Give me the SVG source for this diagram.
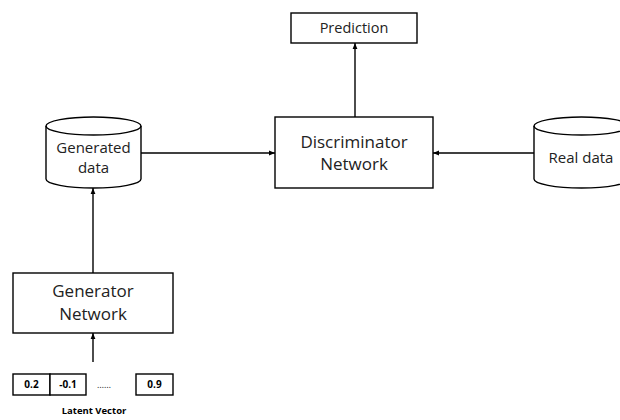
<svg xmlns="http://www.w3.org/2000/svg" width="620" height="420" viewBox="0 0 620 420">
<defs>
<style>
.s{fill:#fff;stroke:#000;stroke-width:1.4}
.l{fill:none;stroke:#000;stroke-width:1.4}
.t{font-family:"Open Sans","Liberation Sans",sans-serif;fill:#222;text-anchor:middle}
.b{font-family:"Open Sans","Liberation Sans",sans-serif;font-weight:bold;fill:#000;text-anchor:middle}
</style>
<marker id="a" viewBox="0 0 10 10" refX="10" refY="5" markerWidth="6" markerHeight="6" orient="auto" markerUnits="userSpaceOnUse">
<path d="M0,1 L10,5 L0,9 z" fill="#000"/>
</marker>
</defs>
<rect width="620" height="420" fill="#fff"/>
<g id="connectors">
<line class="l" x1="355" y1="117" x2="355" y2="43" marker-end="url(#a)"/>
<line class="l" x1="141" y1="153" x2="275" y2="153" marker-end="url(#a)"/>
<line class="l" x1="534" y1="153" x2="433" y2="153" marker-end="url(#a)"/>
<line class="l" x1="93" y1="273" x2="93" y2="188" marker-end="url(#a)"/>
<line class="l" x1="93" y1="362" x2="93" y2="333" marker-end="url(#a)"/>
</g>
<g id="prediction">
<rect class="s" x="291" y="13" width="126" height="30"/>
<text class="t" x="354" y="33" font-size="14.5">Prediction</text>
</g>
<g id="discriminator">
<rect class="s" x="275" y="117" width="158" height="71"/>
<text class="t" x="354" y="148" font-size="17">Discriminator</text>
<text class="t" x="354" y="170" font-size="17">Network</text>
</g>
<g id="generated-data">
<path class="s" d="M46,126 L46,179 A47.5,9 0 0 0 141,179 L141,126 A47.5,9 0 0 0 46,126 Z"/>
<path class="l" d="M46,126 A47.5,9 0 0 0 141,126"/>
<text class="t" x="93.5" y="153" font-size="15">Generated</text>
<text class="t" x="93.5" y="173" font-size="15">data</text>
</g>
<g id="real-data">
<path class="s" d="M534,126 L534,179 A47.5,9 0 0 0 629,179 L629,126 A47.5,9 0 0 0 534,126 Z"/>
<path class="l" d="M534,126 A47.5,9 0 0 0 629,126"/>
<text class="t" x="581" y="163" font-size="15">Real data</text>
</g>
<g id="generator">
<rect class="s" x="13" y="273" width="160" height="60"/>
<text class="t" x="93" y="297" font-size="17">Generator</text>
<text class="t" x="93" y="320" font-size="17">Network</text>
</g>
<g id="latent-vector">
<rect class="s" x="13" y="374" width="37" height="21"/>
<rect class="s" x="50" y="374" width="36" height="21"/>
<rect class="s" x="136" y="374" width="37" height="21"/>
<text class="b" x="31.5" y="388" font-size="10">0.2</text>
<text class="b" x="68" y="388" font-size="10">-0.1</text>
<text class="t" x="104" y="388" font-size="9">……</text>
<text class="b" x="154.5" y="388" font-size="10">0.9</text>
<text class="b" x="94" y="414" font-size="9.5">Latent Vector</text>
</g>
</svg>
